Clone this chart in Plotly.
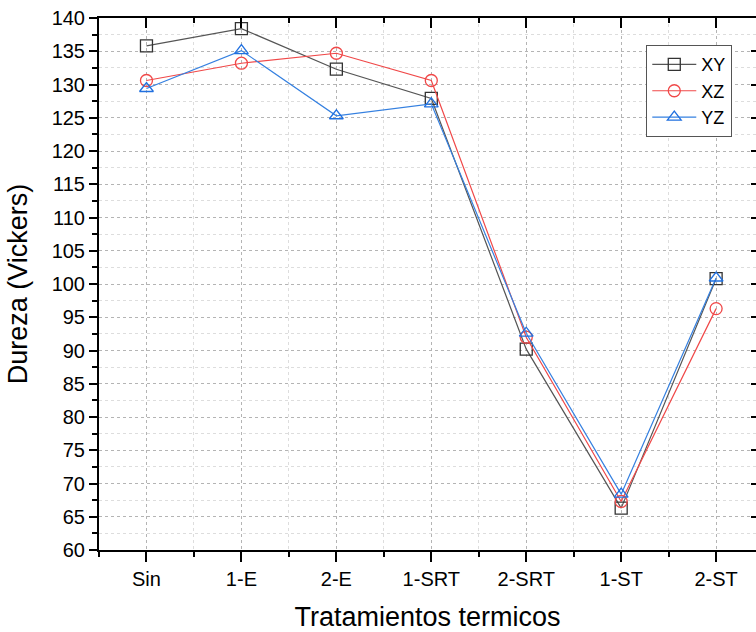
import plotly.graph_objects as go

categories = ["Sin", "1-E", "2-E", "1-SRT", "2-SRT", "1-ST", "2-ST"]
xy = [135.8, 138.4, 132.3, 127.9, 90.2, 66.3, 100.8]
xz = [130.6, 133.2, 134.7, 130.6, 92.0, 67.3, 96.3]
yz = [129.4, 135.1, 125.3, 127.1, 92.6, 68.4, 100.9]
y_ticks = list(range(60, 145, 5))

xpos = list(range(len(categories)))
minor_x = [i - 0.5 for i in range(len(categories) + 1)]

fig = go.Figure()
series = [
    ("XY", xy, "#555555", "#333333", "square-open"),
    ("XZ", xz, "#f04848", "#f04848", "circle-open"),
    ("YZ", yz, "#3580e0", "#2070e0", "triangle-up-open"),
]
for name, vals, lc, mc, sym in series:
    fig.add_trace(go.Scatter(
        x=xpos, y=vals, name=name, mode="lines+markers",
        line=dict(color=lc, width=1.2),
        marker=dict(symbol=sym, size=12, color=mc, line=dict(width=1.3, color=mc)),
    ))
# helper trace for mirrored axes
fig.add_trace(go.Scatter(x=[xpos[0]], y=[y_ticks[0]], xaxis="x2", yaxis="y2",
                         mode="markers", marker=dict(opacity=0), showlegend=False,
                         hoverinfo="skip"))

font = "Liberation Sans, Arial, sans-serif"
xr = [-0.5, 6.42]
yr = [60, 140]
fig.update_layout(
    width=756, height=632,
    margin=dict(l=99, r=0, t=18, b=82, autoexpand=False),
    paper_bgcolor="white", plot_bgcolor="white",
    font=dict(family=font, size=20, color="black"),
    showlegend=True,
    legend=dict(x=0.833, y=0.949, xanchor="left", yanchor="top",
                bgcolor="white", bordercolor="#555555", borderwidth=1,
                font=dict(size=18), tracegroupgap=0, itemwidth=44),
    xaxis=dict(
        range=xr, tickmode="array", tickvals=xpos, ticktext=categories,
        ticks="outside", ticklen=10, tickwidth=2, tickcolor="black",
        showline=True, linewidth=2, linecolor="black",
        showgrid=True, gridcolor="#b4b4b4", griddash="dot", gridwidth=1,
        zeroline=False, automargin=False,
        minor=dict(tickmode="array", tickvals=minor_x, ticks="outside", ticklen=5,
                   tickwidth=2, tickcolor="black", showgrid=True,
                   gridcolor="#dddddd", griddash="dot", gridwidth=1),
        title=dict(text="Tratamientos termicos", font=dict(size=27), standoff=19),
        tickfont=dict(size=20),
    ),
    xaxis2=dict(
        range=xr, overlaying="x", side="top", tickmode="array", tickvals=xpos,
        ticks="inside", ticklen=10, tickwidth=2, tickcolor="black",
        showticklabels=False, showline=True, linewidth=2, linecolor="black",
        showgrid=False, zeroline=False, automargin=False,
        minor=dict(tickmode="array", tickvals=minor_x, ticks="inside", ticklen=5,
                   tickwidth=2, tickcolor="black", showgrid=False),
    ),
    yaxis=dict(
        range=yr, tickmode="array", tickvals=y_ticks,
        ticks="outside", ticklen=8, tickwidth=2, tickcolor="black",
        showline=True, linewidth=2, linecolor="black",
        showgrid=True, gridcolor="#b4b4b4", griddash="dot", gridwidth=1,
        zeroline=False, automargin=False,
        minor=dict(dtick=2.5, tick0=60, ticks="outside", ticklen=5, tickwidth=2,
                   tickcolor="black", showgrid=True, gridcolor="#dddddd",
                   griddash="dot", gridwidth=1),
        title=dict(text="Dureza (Vickers)", font=dict(size=27), standoff=16),
        tickfont=dict(size=20),
    ),
    yaxis2=dict(
        range=yr, overlaying="y", side="right", tickmode="array", tickvals=y_ticks,
        ticks="inside", ticklen=5, tickwidth=2, tickcolor="black",
        showticklabels=False, showline=True, linewidth=2, linecolor="black",
        showgrid=False, zeroline=False, automargin=False,
    ),
)

fig.write_html(
    "out.html",
    config={"displayModeBar": False},
    post_script="document.body.style.margin='0';document.body.style.overflow='hidden';",
)
